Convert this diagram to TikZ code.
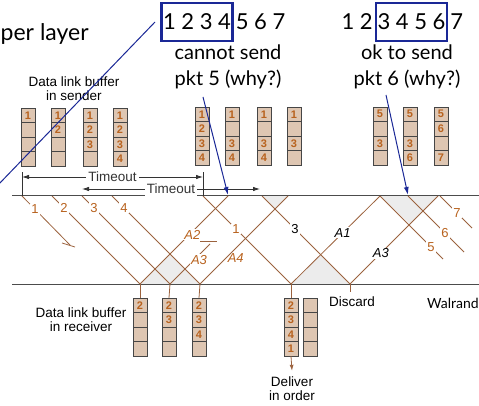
\documentclass[tikz,border=0pt]{standalone}
\usepackage{fontspec}
\setsansfont{Liberation Sans}
\newfontfamily\slidefont{Lato}
\usetikzlibrary{arrows.meta}

\definecolor{pktbrown}{RGB}{155,98,62}
\definecolor{numbrown}{RGB}{184,98,30}
\definecolor{cellfill}{RGB}{222,198,178}
\definecolor{winblue}{RGB}{26,40,150}
\definecolor{shadegray}{RGB}{236,236,236}

\tikzset{
  pkt/.style={pktbrown, line width=0.8pt},
  timeline/.style={gray!60!black, line width=1pt},
  cell/.style={draw=gray!55!black, fill=cellfill, minimum width=14pt,
    minimum height=14.5pt, inner sep=0pt, text=numbrown,
    font=\sffamily\bfseries\fontsize{11}{11}\selectfont},
  plbl/.style={fill=white, inner sep=1pt, text=numbrown,
    font=\sffamily\fontsize{13}{13}\selectfont},
  albl/.style={fill=white, inner sep=1pt, text=numbrown,
    font=\sffamily\itshape\fontsize{13}{13}\selectfont},
  txt/.style={align=center, inner sep=1pt,
    font=\sffamily\fontsize{13.5}{14}\selectfont},
  slide/.style={inner sep=2pt, font=\slidefont\fontsize{22}{26}\selectfont},
  note/.style={align=center, inner sep=1pt,
    font=\slidefont\fontsize{20}{26}\selectfont},
  winbox/.style={slide, draw=winblue, line width=2.2pt,
    minimum width=71pt, minimum height=38pt, inner sep=0pt},
  tmo/.style={black!80, line width=0.8pt},
  tlbl/.style={fill=white, inner sep=2pt,
    font=\sffamily\fontsize{13.5}{13.5}\selectfont},
  blueline/.style={winblue, line width=1pt},
}

% one data link buffer: name, centre x, top y, four entries
\newcommand{\bufcol}[7]{%
  \node[cell] (#1-1) at (#2,#3+7.25) {#4};
  \node[cell] (#1-2) at (#2,#3+21.75) {#5};
  \node[cell] (#1-3) at (#2,#3+36.25) {#6};
  \node[cell] (#1-4) at (#2,#3+50.75) {#7};
}

\begin{document}
\begin{tikzpicture}[x=1pt, y=-1pt]
  \useasboundingbox (0,0) rectangle (479,406);

  % time lines
  \coordinate (tl0) at (12,196);  \coordinate (tl1) at (479,196);
  \coordinate (bl0) at (12,284);  \coordinate (bl1) at (479,284);

  % sender instants
  \coordinate (s1) at (22,196);   \coordinate (s2) at (52,196);
  \coordinate (s3) at (82,196);   \coordinate (s4) at (112,196);
  \coordinate (s1r) at (203,196); \coordinate (s3r) at (262,196);
  \coordinate (s5) at (380,196);  \coordinate (s6) at (408,196);
  \coordinate (s7) at (440,196);
  \coordinate (a2t) at (228,196); \coordinate (a4t) at (288,196);
  \coordinate (a1t) at (380,196); \coordinate (a3t) at (438,196);

  % receiver instants
  \coordinate (r2) at (140,284);  \coordinate (r3) at (170,284);
  \coordinate (r4) at (200,284);  \coordinate (r1) at (291,284);
  \coordinate (r3r) at (350,284);

  % loose ends
  \coordinate (p1x) at (70,245);  \coordinate (a3x) at (210,244);
  \coordinate (p5x) at (443,259); \coordinate (p6x) at (464,252);
  \coordinate (p7x) at (472,228);

  % shaded gaps
  \fill[shadegray] (r2) -- (170,254) -- (r4) -- cycle;
  \fill[shadegray] (s3r) -- (275,209) -- (a4t) -- cycle;
  \fill[shadegray] (r1) -- (320.5,254.5) -- (r3r) -- cycle;
  \fill[shadegray] (s5) -- (410,224) -- (a3t) -- cycle;

  \draw[timeline] (tl0) -- (tl1);
  \draw[timeline] (bl0) -- (bl1);

  % packets
  \draw[pkt] (s1) -- node[plbl, pos=.27] {1} (p1x);
  \draw[pkt] ([shift={(-8,-2)}]p1x) -- ([shift={(5,2)}]p1x);
  \draw[pkt] (s2) -- node[plbl, pos=.136] {2} (r2);
  \draw[pkt] (s3) -- node[plbl, pos=.136] {3} (r3);
  \draw[pkt] (s4) -- node[plbl, pos=.136] {4} (r4);
  \draw[pkt] (s1r) -- node[plbl, pos=.375] {1} (r1);
  \draw[pkt] (s3r) -- node[plbl, pos=.375, text=black] {3} (r3r);
  \draw[pkt] (s5) -- node[plbl, pos=.81] {5} (p5x);
  \draw[pkt] (s6) -- node[plbl, pos=.66] {6} (p6x);
  \draw[pkt] (s7) -- node[plbl, pos=.53] {7} (p7x);

  % acks
  \draw[pkt] (r2) -- node[albl, pos=.56, xshift=3pt] {A2} (a2t);
  \draw[pkt] (r3) -- node[albl, pos=.6, xshift=5pt] {A3} (a3x);
  \draw[pkt] ([shift={(-10,-3)}]a3x) -- ([shift={(7,-3)}]a3x);
  \draw[pkt] (r4) -- node[albl, fill=none, pos=.3, anchor=west] {A4} (a4t);
  \draw[pkt] (r1) -- node[albl, pos=.58, text=black] {A1} (a1t);
  \draw[pkt] (r3r) -- node[albl, pos=.35, text=black] {A3} (a3t);

  % timeouts
  \draw[tmo] (s1) -- ++(0,-24);
  \draw[tmo] (s1r) -- ++(0,-24);
  \coordinate (t1a) at (22,177);  \coordinate (t1b) at (203,177);
  \coordinate (t2a) at (82,189);  \coordinate (t2b) at (260,189);
  \draw[tmo, {Latex[length=7pt,width=4.5pt]}-{Latex[length=7pt,width=4.5pt]}]
    (t1a) -- node[tlbl] {Timeout} (t1b);
  \draw[tmo, {Latex[length=7pt,width=4.5pt]}-{Latex[length=7pt,width=4.5pt]}]
    (t2a) -- node[tlbl] {Timeout} (t2b);

  % sender buffers
  \node[txt] (sndlbl) at (74,89) {Data link buffer\\in sender};
  \bufcol{sa}{28}{108}{1}{}{}{}
  \bufcol{sb}{58}{108}{1}{2}{}{}
  \bufcol{sc}{90}{108}{1}{2}{3}{}
  \bufcol{sd}{120}{108}{1}{2}{3}{4}
  \bufcol{se}{202}{107}{1}{2}{3}{4}
  \bufcol{sf}{232}{107}{1}{}{3}{4}
  \bufcol{sg}{264}{107}{1}{}{3}{4}
  \bufcol{sh}{294}{107}{1}{}{3}{}
  \bufcol{si}{380}{107}{5}{}{3}{}
  \bufcol{sj}{410}{107}{5}{}{3}{6}
  \bufcol{sk}{441}{107}{5}{6}{}{7}

  % receiver buffers
  \node[txt] (rcvlbl) at (81,320) {Data link buffer\\in receiver};
  \bufcol{ra}{140}{298}{2}{}{}{}
  \bufcol{rb}{169}{298}{2}{3}{}{}
  \bufcol{rc}{199}{298}{2}{3}{4}{}
  \bufcol{rd}{291}{298}{2}{3}{4}{1}
  \bufcol{re}{310}{298}{}{}{}{}
  \draw[pkt] (r2) -- (ra-1.north);
  \draw[pkt] (r3) -- (rb-1.north);
  \draw[pkt] (r4) -- (rc-1.north);
  \draw[pkt] (r1) -- (rd-1.north);
  \coordinate (dstub) at (350,292);
  \draw[pkt] (r3r) -- (dstub);
  \node[txt] (discard) at (352,302) {Discard};
  \node[txt] (deliver) at (292,389) {Deliver\\in order};
  \draw[pkt, -{Latex[length=6pt,width=4pt]}] (rd-4.south) -- ([yshift=5pt]deliver.north);
  \node[inner sep=1pt, font=\slidefont\fontsize{14}{14}\selectfont] (walrand) at (453,303) {Walrand};

  % slide text
  \node[inner sep=0pt, anchor=west, font=\slidefont\fontsize{23}{23}\selectfont] (upper) at (0.5,34) {per layer};
  \node[winbox] (lwin) at (197,22) {1 2 3 4};
  \node[slide, anchor=west] (lrest) at (lwin.east) {5 6 7};
  \node[winbox] (rwin) at (411.5,22) {3 4 5 6};
  \node[slide, anchor=east] (rhead) at (rwin.west) {1 2};
  \node[slide, anchor=west] (rtail) at (rwin.east) {7};
  \node[note] (lnote) at (228,67) {cannot send\\pkt 5 (why?)};
  \node[note] (rnote) at (407,67) {ok to send\\pkt 6 (why?)};

  % pointers
  \coordinate (lb0) at (155,22);   \coordinate (lout) at (-2,185);
  \coordinate (lb1) at (203,97);   \coordinate (rb1) at (386,95);
  \draw[blueline] (lb0) -- (lout);
  \draw[blueline, -{Latex[length=8pt,width=5pt]}] (lb1) -- ([yshift=1pt]a2t);
  \draw[blueline, -{Latex[length=8pt,width=5pt]}] (rb1) -- ([yshift=1pt]s6);
\end{tikzpicture}
\end{document}
